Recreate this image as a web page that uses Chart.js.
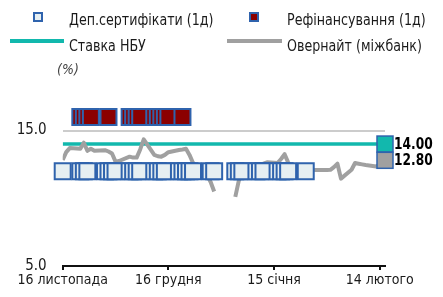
<!DOCTYPE html>
<html>
<head>
<meta charset="utf-8">
<script src="https://cdn.jsdelivr.net/npm/chart.js@4.4.0/dist/chart.umd.min.js"></script>
<style>
  html, body { margin: 0; padding: 0; background: #fff; }
</style>
</head>
<body>
<canvas id="rates" width="443" height="297"></canvas>
<script>
// x values are days counted from 16 Nov 2016
const tickDays = [0, 30, 60, 90];
const tickLabels = ['16 листопада', '16 грудня', '15 січня', '14 лютого'];
const yTicks = [5, 15];

const depDays = [0, 5, 6, 7, 12, 13, 14, 15, 19, 20, 21, 22, 26, 27, 28, 29,
  33, 34, 35, 36, 37, 42, 43, 49, 50, 51, 55, 56, 57, 61, 62, 63, 64, 69];
const depRate = 12.0;

const refiDays = [5, 6, 7, 8, 13, 19, 20, 21, 22, 26, 27, 28, 29, 30, 34];
const refiRate = 16.0;

const nbuDays = [0, 91];
const nbuRate = [14.0, 14.0];

const onDays = [0, 1, 2, 5, 6, 7, 8, 9, 12, 13, 14, 15, 16, 19, 20, 21, 22, 23,
  26, 27, 28, 29, 30, 33, 34, 35, 36, 37, 40, 41, 42, 43, 46, 49, 50, 51, 55, 56,
  57, 58, 61, 62, 63, 64, 65, 68, 69, 70, 71, 72, 75, 76, 77, 78, 79, 82, 83, 84,
  85, 86, 89, 90, 91];
const onRate = [12.82, 13.4, 13.7, 13.65, 14.1, 13.5, 13.65, 13.5, 13.55, 13.45, 13.3, 12.7, 12.75, 13.07, 13.0, 13.0, 13.6, 14.35,
  13.2, 13.1, 13.07, 13.2, 13.4, 13.56, 13.6, 13.65, 13.2, 12.6, 12.1, 11.7, 11.2, 10.5, null, 10.1, 11.3, 11.9, 12.2, 12.4,
  12.55, 12.65, 12.6, 12.9, 13.25, 12.65, 12.3, 12.1, 12.0, 12.05, 12.08, 12.08, 12.08, 12.1, 12.3, 12.55, 11.45, 12.1, 12.6, 12.55,
  12.5, 12.45, 12.35, 12.5, 12.8];

const FONT = "'Liberation Sans Narrow', 'Arial Narrow', 'DejaVu Sans Condensed', sans-serif";
const BLUE = '#2f63ad';
const TEAL = '#12b8ad';
const GREY = '#a0a0a0';
const DEP_FILL = '#e6eff2';
const REFI_FILL = '#8b0000';

Chart.defaults.font.family = FONT;
Chart.defaults.font.size = 14;
Chart.defaults.color = '#1a1a1a';

function pts(days, vals) {
  return days.map((d, i) => ({ x: d, y: Array.isArray(vals) ? vals[i] : vals }));
}

// text squeezed sideways so it keeps the height of the original narrow face
function narrowText(c, txt, x, y, sx) {
  c.save();
  c.translate(x, y);
  c.scale(sx, 1);
  c.fillText(txt, 0, 0);
  c.restore();
}

const legendAndLabels = {
  id: 'legendAndLabels',
  afterDraw(chart) {
    const c = chart.ctx;
    const area = chart.chartArea;
    const y = chart.scales.y;
    c.save();
    c.textBaseline = 'middle';
    c.textAlign = 'left';
    c.lineWidth = 2;
    c.strokeStyle = BLUE;
    c.fillStyle = DEP_FILL;
    c.fillRect(34, 13, 8, 8); c.strokeRect(34, 13, 8, 8);
    c.fillStyle = REFI_FILL;
    c.fillRect(250, 13, 8, 8); c.strokeRect(250, 13, 8, 8);
    c.lineWidth = 4;
    c.strokeStyle = TEAL;
    c.beginPath(); c.moveTo(10, 41); c.lineTo(64, 41); c.stroke();
    c.strokeStyle = GREY;
    c.beginPath(); c.moveTo(227, 41); c.lineTo(282, 41); c.stroke();
    c.font = '16px ' + FONT;
    c.fillStyle = '#1a1a1a';
    narrowText(c, 'Деп.сертифікати (1д)', 69, 21, 0.88);
    narrowText(c, 'Рефінансування (1д)', 287, 21, 0.88);
    narrowText(c, 'Ставка НБУ', 69, 47, 0.88);
    narrowText(c, 'Овернайт (міжбанк)', 287, 47, 0.88);
    c.font = 'italic 14px ' + FONT;
    c.fillStyle = '#444';
    c.fillText('(%)', 57, 70);

    // last value boxes
    const lastNbu = nbuRate[nbuRate.length - 1];
    const lastOn = onRate[onRate.length - 1];
    const boxes = [[lastNbu, TEAL], [lastOn, GREY]];
    c.lineWidth = 1.5;
    c.strokeStyle = BLUE;
    c.font = 'bold 16px ' + FONT;
    boxes.forEach(([v, col]) => {
      const py = y.getPixelForValue(v);
      c.fillStyle = col;
      c.fillRect(area.right - 8, py - 8, 16, 16);
      c.strokeRect(area.right - 8, py - 8, 16, 16);
      c.fillStyle = '#000';
      narrowText(c, v.toFixed(2), area.right + 9, py + 1, 0.85);
    });
    c.restore();
  }
};

new Chart(document.getElementById('rates'), {
  type: 'line',
  data: {
    datasets: [
      {
        label: 'Деп.сертифікати (1д)',
        data: pts(depDays, depRate),
        showLine: false,
        pointStyle: 'rect',
        pointRadius: 11.3,
        pointBorderWidth: 2,
        pointBackgroundColor: DEP_FILL,
        pointBorderColor: BLUE,
        clip: false,
        order: 0
      },
      {
        label: 'Рефінансування (1д)',
        data: pts(refiDays, refiRate),
        showLine: false,
        pointStyle: 'rect',
        pointRadius: 11.3,
        pointBorderWidth: 2,
        pointBackgroundColor: REFI_FILL,
        pointBorderColor: BLUE,
        clip: false,
        order: 1
      },
      {
        label: 'Ставка НБУ',
        data: pts(nbuDays, nbuRate),
        borderColor: TEAL,
        borderWidth: 3.5,
        pointRadius: 0,
        order: 3
      },
      {
        label: 'Овернайт (міжбанк)',
        data: pts(onDays, onRate),
        borderColor: GREY,
        borderWidth: 4,
        pointRadius: 0,
        spanGaps: false,
        borderJoinStyle: 'round',
        order: 2
      }
    ]
  },
  options: {
    responsive: false,
    animation: false,
    devicePixelRatio: 1,
    layout: { padding: { left: 0, right: 58, top: 62.75, bottom: 0 } },
    plugins: { legend: { display: false }, tooltip: { enabled: false } },
    scales: {
      x: {
        type: 'linear',
        min: 0,
        max: 91.5,
        afterBuildTicks: s => { s.ticks = tickDays.map(v => ({ value: v })); },
        afterFit: s => { s.height = 31; },
        ticks: {
          autoSkip: false,
          maxRotation: 0,
          padding: 2,
          callback: (v, i) => tickLabels[i]
        },
        grid: { drawOnChartArea: false, color: '#111', lineWidth: 2, tickLength: 4 },
        border: { color: '#111', width: 2 }
      },
      y: {
        min: 5,
        max: 20,
        afterBuildTicks: s => { s.ticks = yTicks.map(v => ({ value: v })); },
        afterFit: s => { s.width = 62.7; },
        ticks: {
          padding: 16,
          font: { size: 15 },
          callback: v => v.toFixed(1)
        },
        grid: {
          drawTicks: false,
          lineWidth: 2,
          color: c => (c.tick && c.tick.value === 5 ? 'rgba(0,0,0,0)' : '#cccccc')
        },
        border: { display: false }
      }
    }
  },
  plugins: [legendAndLabels]
});
</script>
</body>
</html>
